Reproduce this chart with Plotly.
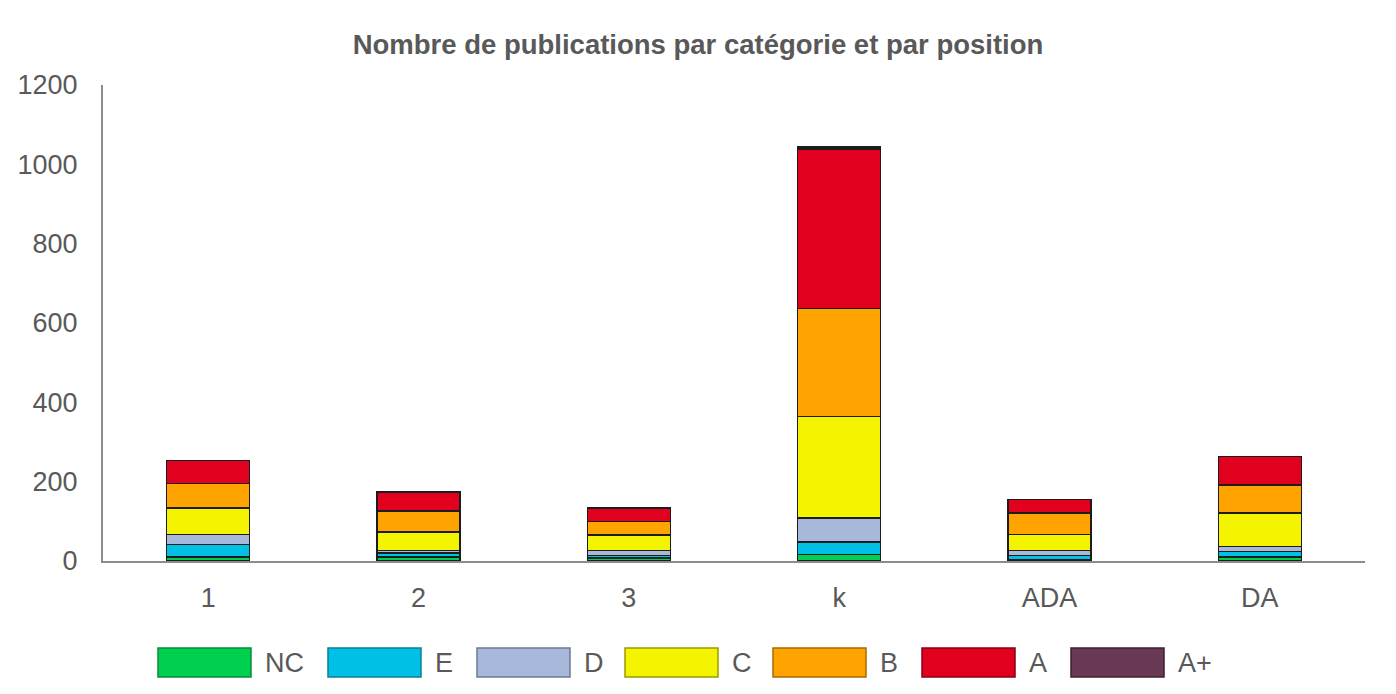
import plotly.graph_objects as go

categories = ["1", "2", "3", "k", "ADA", "DA"]
series_names = ["NC", "E", "D", "C", "B", "A", "A+"]
nc = [10, 10, 8, 16, 4, 10]
e = [32, 10, 6, 32, 10, 14]
d = [25, 7, 13, 60, 13, 13]
c = [66, 46, 38, 256, 40, 84]
b = [63, 53, 35, 272, 54, 71]
a = [57, 48, 34, 403, 34, 72]
a_plus = [1, 0, 0, 5, 0, 0]
y_ticks = [0, 200, 400, 600, 800, 1000, 1200]

series_values = [nc, e, d, c, b, a, a_plus]
colors = ["#00D050", "#00C0E6", "#A8B8DA", "#F4F400", "#FFA300", "#E2001F", "#693956"]
borders = ["#0a8a3a", "#0a7f9a", "#6f7a92", "#9a9a00", "#a86c00", "#8a0014", "#3d2131"]

FONT = "Liberation Sans, Arial, sans-serif"
GREY = "#595959"

fig = go.Figure()
for name, vals, col in zip(series_names, series_values, colors):
    fig.add_trace(go.Bar(
        x=categories, y=vals, name=name,
        marker=dict(color=col, line=dict(color="#1c1c1c", width=1.5)),
        showlegend=False,
    ))

# custom legend with wide swatches
plot_l, plot_r, plot_t, plot_b = 103, 1365, 85, 561
pw, ph = plot_r - plot_l, plot_b - plot_t
def px_x(x):
    return (x - plot_l) / pw
def px_y(y):
    return (plot_b - y) / ph

shapes = []
annotations = []
swatch_left = [158, 328, 477, 625, 773, 922, 1071]
sw_w, sw_top, sw_bot = 93, 648, 677
for x0, name, col, bc in zip(swatch_left, series_names, colors, borders):
    shapes.append(dict(type="rect", xref="paper", yref="paper",
                       x0=px_x(x0), x1=px_x(x0 + sw_w), y0=px_y(sw_bot), y1=px_y(sw_top),
                       fillcolor=col, line=dict(color=bc, width=1.5)))
    annotations.append(dict(xref="paper", yref="paper", x=px_x(x0 + sw_w + 12),
                            y=px_y((sw_top + sw_bot) / 2), text=name, showarrow=False,
                            xanchor="left", yanchor="middle",
                            font=dict(family=FONT, size=27, color=GREY)))

fig.update_layout(
    barmode="stack",
    bargap=0.605,
    width=1396, height=694,
    margin=dict(l=plot_l, r=1396 - plot_r, t=plot_t, b=694 - plot_b),
    paper_bgcolor="white", plot_bgcolor="white",
    title=dict(text="<b>Nombre de publications par catégorie et par position</b>",
               x=0.5, xanchor="center", y=1 - 44 / 694, yanchor="middle",
               font=dict(family=FONT, size=27.5, color=GREY)),
    font=dict(family=FONT, color=GREY),
    shapes=shapes,
    annotations=annotations,
)
fig.update_yaxes(range=[0, 1200], tickvals=y_ticks, showgrid=False, zeroline=False,
                 showline=True, linecolor="#8c8c8c", linewidth=2, ticks="",
                 ticklabelstandoff=18, tickfont=dict(family=FONT, size=27, color=GREY))
fig.update_xaxes(showgrid=False, showline=True, linecolor="#8c8c8c", linewidth=2,
                 ticks="", ticklabelstandoff=12,
                 tickfont=dict(family=FONT, size=27, color=GREY))

fig.write_html("out.html")
